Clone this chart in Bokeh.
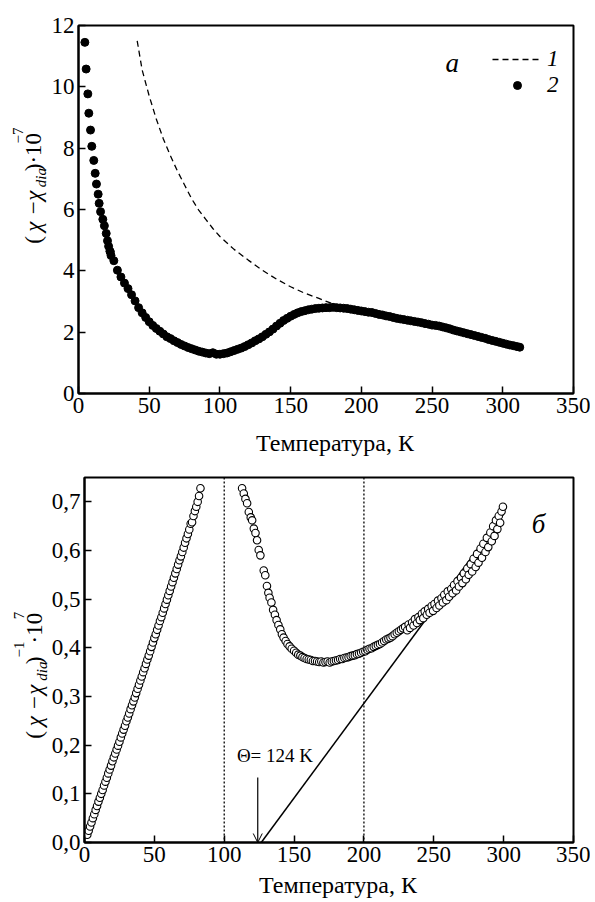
import math
from bokeh.plotting import figure
from bokeh.layouts import column, row
from bokeh.models import (Label, Span, FixedTicker, CustomJSTickFormatter, Arrow,
                          OpenHead, Legend, LegendItem, Range1d)
from bokeh.embed import file_html
from bokeh.resources import INLINE

FONT = "Liberation Serif"

# ---------------- data: panel a ----------------
# series 2 (measured, filled circles)
a_T = [4.5, 5.4, 6.6, 7.3, 8.5, 9.4, 10.8, 11.8, 12.7, 13.9, 14.6, 15.6, 17.2, 18.3, 19.6,
       20.5, 21.3, 22.2, 23.0,
       22.5, 25, 27.5, 30, 32.5, 35, 37.5, 40, 42.5, 45, 47.5, 50, 52.5, 55, 57.5, 60,
       62.5, 65, 67.5, 70, 72.5, 75, 77.5, 80, 82.5, 85, 87.5, 90, 92.5, 95, 97.5, 100,
       102.5, 105, 107.5, 110, 112.5, 115, 117.5, 120, 122.5, 125, 127.5, 130, 132.5, 135,
       137.5, 140, 142.5, 145, 147.5, 150, 152.5, 155, 157.5, 160, 162.5, 165, 167.5, 170,
       172.5, 175, 177.5, 180, 182.5, 185, 187.5, 190, 192.5, 195, 197.5, 200, 202.5, 205,
       207.5, 210, 212.5, 215, 217.5, 220, 222.5, 225, 227.5, 230, 232.5, 235, 237.5, 240,
       242.5, 245, 247.5, 250, 252.5, 255, 257.5, 260, 262.5, 265, 267.5, 270, 272.5, 275,
       277.5, 280, 282.5, 285, 287.5, 290, 292.5, 295, 297.5, 300, 302.5, 305, 307.5, 310,
       312.0]
a_chi = [11.45, 10.58, 9.77, 9.14, 8.59, 8.06, 7.60, 7.18, 6.83, 6.50, 6.20, 5.93, 5.68, 5.47, 5.22,
         4.98, 4.80, 4.64, 4.50,
         4.62, 4.33, 4.02, 3.80, 3.60, 3.42, 3.22, 3.02, 2.80, 2.63, 2.48, 2.34, 2.22, 2.12, 2.03, 1.94,
         1.85, 1.79, 1.72, 1.66, 1.60, 1.55, 1.50, 1.46, 1.42, 1.38, 1.35, 1.32, 1.30, 1.33, 1.28, 1.28,
         1.30, 1.32, 1.36, 1.40, 1.44, 1.48, 1.53, 1.59, 1.65, 1.72, 1.78, 1.85, 1.93, 2.01,
         2.10, 2.20, 2.29, 2.38, 2.45, 2.52, 2.58, 2.63, 2.67, 2.70, 2.73, 2.75, 2.77, 2.78,
         2.79, 2.80, 2.80, 2.81, 2.80, 2.79, 2.78, 2.77, 2.75, 2.73, 2.71, 2.69, 2.67, 2.65,
         2.64, 2.61, 2.58, 2.56, 2.53, 2.51, 2.48, 2.45, 2.43, 2.41, 2.39, 2.37, 2.35, 2.33,
         2.31, 2.28, 2.26, 2.23, 2.22, 2.20, 2.17, 2.14, 2.11, 2.07, 2.04, 2.01, 1.98, 1.95,
         1.92, 1.89, 1.86, 1.83, 1.80, 1.76, 1.73, 1.70, 1.67, 1.64, 1.61, 1.58, 1.56, 1.53,
         1.51]
# series 1 (calculated, dashed)
c_T = [41.5, 45, 50, 55, 60, 65, 70, 75, 80, 85, 90, 95, 100, 110, 120, 130, 140, 150, 160, 170, 180, 184]
c_chi = [11.5, 10.55, 9.7, 8.95, 8.3, 7.75, 7.25, 6.8, 6.35, 5.98, 5.68, 5.38, 5.12, 4.7, 4.35, 4.02,
         3.73, 3.48, 3.27, 3.10, 2.92, 2.86]

# ---------------- data: panel б ----------------
b1_T = list(range(2, 84))
b1_y = [0.016, 0.024, 0.033, 0.041, 0.050, 0.058, 0.067, 0.075, 0.084, 0.092,
        0.100, 0.108, 0.117, 0.125, 0.133, 0.142, 0.150, 0.158, 0.167, 0.175,
        0.183, 0.191, 0.199, 0.207, 0.216, 0.224, 0.232, 0.240, 0.249, 0.257,
        0.265, 0.274, 0.282, 0.290, 0.298, 0.307, 0.316, 0.324, 0.333, 0.341,
        0.350, 0.358, 0.367, 0.376, 0.384, 0.393, 0.402, 0.411, 0.420, 0.428,
        0.437, 0.446, 0.455, 0.463, 0.472, 0.481, 0.490, 0.499, 0.508, 0.517,
        0.526, 0.535, 0.544, 0.553, 0.562, 0.571, 0.580, 0.588, 0.597, 0.606,
        0.616, 0.625, 0.634, 0.643, 0.655, 0.658, 0.671, 0.681, 0.690, 0.700,
        0.712, 0.728]
b2a_T = [112.8, 114, 115.2, 116.4, 117.6, 119, 120, 121.2, 122.4, 123.5, 124.7, 125.9, 128.3, 129.4,
         130.6, 131.6, 132.5, 133.8, 135, 136.3, 137.5, 138.8, 140.1, 141.3, 142.5, 144, 145.3,
         146.8, 148.3, 150, 151.5, 153, 154.5, 156, 157.5, 159, 160.5, 162, 163.5, 165, 166.5,
         168, 169.5, 171, 172.5, 174, 175.5, 177, 178.5, 180, 181.5, 183, 184.5, 186, 187.5,
         189, 190.5, 192, 193.5, 195, 196.5, 198, 199.5, 201, 202.5, 204, 205.5, 207, 208.5,
         210, 211.5, 213, 214.5, 216, 217.5, 219, 220.5, 222, 223.5, 225, 226.5, 228, 229.5]
b2a_y = [0.728, 0.717, 0.706, 0.697, 0.679, 0.668, 0.662, 0.645, 0.636, 0.621, 0.601, 0.590, 0.559, 0.549,
         0.527, 0.513, 0.503, 0.493, 0.478, 0.468, 0.457, 0.447, 0.438, 0.428, 0.421, 0.414, 0.408,
         0.403, 0.398, 0.394, 0.390, 0.386, 0.384, 0.381, 0.379, 0.377, 0.376, 0.375, 0.373, 0.373, 0.372,
         0.371, 0.372, 0.370, 0.371, 0.372, 0.370, 0.372, 0.373, 0.374, 0.375, 0.377, 0.377, 0.379, 0.380,
         0.381, 0.383, 0.384, 0.385, 0.387, 0.388, 0.390, 0.392, 0.393, 0.396, 0.398, 0.399, 0.402, 0.404,
         0.406, 0.408, 0.411, 0.414, 0.417, 0.419, 0.421, 0.424, 0.428, 0.431, 0.434, 0.437, 0.440, 0.443]
b2b_T = [231, 232, 233, 234.5, 235.5, 236.5, 238, 239, 240, 241.5, 242.5, 243.5, 245, 246, 247,
         248.5, 249.5, 250.5, 252, 253, 254, 255.5, 256.5, 257.5, 259, 260, 261, 262.5, 263.5, 264.5,
         266, 267, 268, 269.5, 270.5, 271.5, 273, 274, 275, 276.5, 277.5, 278.5, 280, 281, 282,
         283.5, 284.5, 285.5, 287, 288, 289, 290.5, 291.5, 292.5, 293.5, 294.5, 295.5, 296.5, 297.5,
         298.5, 299.5]
b2b_y = [0.436, 0.448, 0.441, 0.452, 0.446, 0.459, 0.451, 0.463, 0.457, 0.470, 0.461, 0.475, 0.468, 0.480,
         0.472, 0.486, 0.476, 0.490, 0.482, 0.497, 0.487, 0.502, 0.493, 0.509, 0.498, 0.516, 0.505, 0.521,
         0.512, 0.529, 0.518, 0.537, 0.526, 0.544, 0.533, 0.553, 0.541, 0.563, 0.550, 0.572, 0.557, 0.583,
         0.566, 0.593, 0.575, 0.604, 0.585, 0.614, 0.597, 0.626, 0.607, 0.637, 0.619, 0.650, 0.630, 0.662,
         0.644, 0.671, 0.657, 0.680, 0.690]
b2_T = b2a_T + b2b_T
b2_y = b2a_y + b2b_y
# Curie-Weiss fit line
fit_T = [126.5, 300.0]
fit_y = [0.0, 0.675]
theta = 124
x_ticks = [0, 50, 100, 150, 200, 250, 300, 350]
a_yticks = [0, 2, 4, 6, 8, 10, 12]
b_yticks = [0.0, 0.1, 0.2, 0.3, 0.4, 0.5, 0.6, 0.7]
x_title = "\u00a0\u00a0\u00a0Температура, К"


def style(p, yticks, label_standoff):
    p.outline_line_color = "black"
    p.outline_line_width = 2
    p.background_fill_color = "white"
    p.border_fill_color = "white"
    p.grid.visible = False
    for ax in (p.xaxis[0], p.yaxis[0]):
        ax.axis_line_width = 2
        ax.axis_line_color = "black"
        ax.major_tick_in = 7
        ax.major_tick_out = 0
        ax.major_tick_line_width = 1.5
        ax.minor_tick_in = 0
        ax.minor_tick_out = 0
        ax.major_label_text_font = FONT
        ax.major_label_text_font_size = "23px"
        ax.major_label_text_color = "black"
        ax.major_label_standoff = 4
    xa = p.xaxis[0]
    xa.ticker = FixedTicker(ticks=x_ticks)
    xa.axis_label = x_title
    xa.axis_label_text_font = FONT
    xa.axis_label_text_font_size = "24px"
    xa.axis_label_text_font_style = "normal"
    xa.axis_label_text_color = "black"
    xa.axis_label_standoff = label_standoff
    p.yaxis[0].ticker = FixedTicker(ticks=yticks)


def lab(p, x, y, text, size, style_="normal", angle=0.0, align="left", baseline="alphabetic"):
    p.add_layout(Label(x=x, y=y, text=text, text_font=FONT, text_font_size=f"{size}px",
                       text_font_style=style_, angle=angle, text_align=align,
                       text_baseline=baseline, text_color="black"))


def label_fig(w, top, bottom):
    f = figure(width=w, height=bottom - top, output_backend="svg", toolbar_location=None,
               x_range=Range1d(0, w), y_range=Range1d(bottom, top),
               x_axis_location=None, y_axis_location=None, min_border=0)
    f.outline_line_color = None
    f.grid.visible = False
    f.background_fill_color = "white"
    f.border_fill_color = "white"
    return f


R = math.pi / 2
LW = 48
PW = 542

# ---------------- panel a ----------------
p1 = figure(width=PW, height=462, output_backend="svg", toolbar_location=None,
            x_range=Range1d(0, 350), y_range=Range1d(0, 12),
            min_border_left=78 - LW, min_border_right=PW - (78 - LW) - 495,
            min_border_top=25, min_border_bottom=462 - 393)
style(p1, a_yticks, 14)
ax_ = lambda px: (px - 78) * 350 / 495
ay_ = lambda py: (393 - py) * 12 / 368

r_c = p1.line(c_T, c_chi, line_color="black", line_width=1.3, line_dash="6 4")
r_a = p1.scatter(a_T, a_chi, marker="circle", size=8, fill_color="black", line_color="black")

leg = Legend(items=[LegendItem(label="1", renderers=[r_c]), LegendItem(label="2", renderers=[r_a])],
             location=(414, 295), margin=0, padding=0, spacing=0,
             glyph_width=50, glyph_height=20, label_height=20, label_standoff=5,
             label_text_font=FONT, label_text_font_size="23px", label_text_font_style="italic",
             label_text_color="black",
             background_fill_alpha=0, border_line_alpha=0)
p1.add_layout(leg)
lab(p1, ax_(445), ay_(62), "а", 27, "italic")

l1 = label_fig(LW, 0, 462)
lab(l1, 33, 274, "(", 23, angle=R)
lab(l1, 33, 259, "χ", 23, "italic", angle=R)
lab(l1, 33, 237, "−", 23, angle=R)
lab(l1, 33, 220, "χ", 23, "italic", angle=R)
lab(l1, 40, 203, "dia", 15, "italic", angle=R)
lab(l1, 33, 183, ")·10", 23, angle=R)
lab(l1, 17, 148, "−7", 15, angle=R)

# ---------------- panel б ----------------
p2 = figure(width=PW, height=440, output_backend="svg", toolbar_location=None,
            x_range=Range1d(0, 350), y_range=Range1d(0, 0.75),
            min_border_left=82 - LW, min_border_right=PW - (82 - LW) - 491,
            min_border_top=477 - 462, min_border_bottom=440 - 15 - 365)
style(p2, b_yticks, 7)
p2.yaxis[0].formatter = CustomJSTickFormatter(code="return tick.toFixed(1).replace('.', ',');")
bx_ = lambda px: (px - 82) * 350 / 491
by_ = lambda py: (842 - py) * 0.75 / 365

for loc in (100, 200):
    p2.add_layout(Span(location=loc, dimension="height", line_color="black",
                       line_width=1.3, line_dash="2 2"))

p2.line(fit_T, fit_y, line_color="black", line_width=1.5)
p2.scatter(b1_T, b1_y, marker="circle", size=7.5, fill_color="white", line_color="black", line_width=1.1)
p2.scatter(b2_T, b2_y, marker="circle", size=7.5, fill_color="white", line_color="black", line_width=1.1)

p2.add_layout(Arrow(end=OpenHead(size=9, line_width=1, line_color="black"),
                    x_start=theta, y_start=by_(777), x_end=theta, y_end=0,
                    line_width=1.2, line_color="black"))
lab(p2, bx_(235), by_(755), "Θ= 124 K", 19)
lab(p2, bx_(531), by_(523), "б", 27, "italic")

l2 = label_fig(LW, 462, 902)
lab(l2, 34, 777, "(", 23, angle=R)
lab(l2, 34, 762, "χ", 23, "italic", angle=R)
lab(l2, 34, 741, "−", 23, angle=R)
lab(l2, 34, 724, "χ", 23, "italic", angle=R)
lab(l2, 41, 707, "dia", 15, "italic", angle=R)
lab(l2, 34, 687, ")", 23, angle=R)
lab(l2, 18, 679, "−1", 15, angle=R)
lab(l2, 34, 662, "·10", 23, angle=R)
lab(l2, 18, 633, "7", 15, angle=R)

layout = column(row(l1, p1), row(l2, p2))
open("out.html", "w").write(file_html(layout, INLINE))
